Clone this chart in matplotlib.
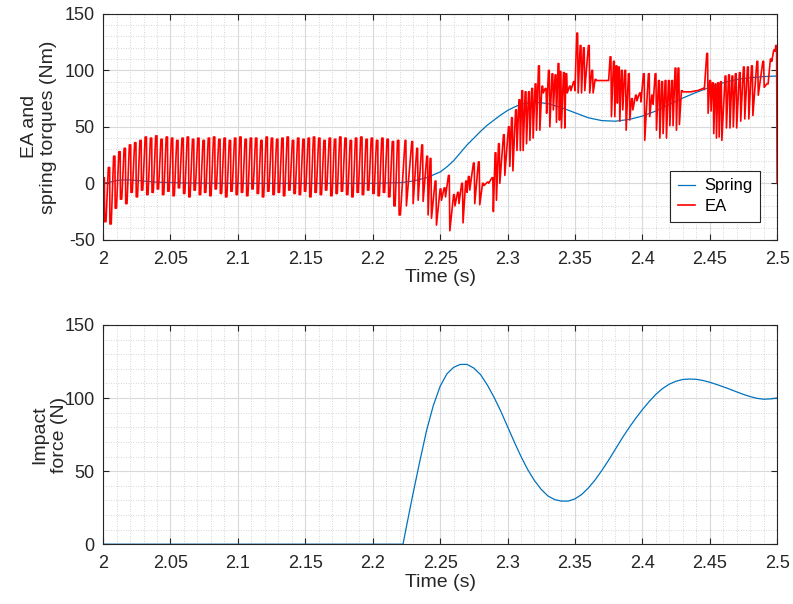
import numpy as np
import matplotlib
matplotlib.use("Agg")
import matplotlib.pyplot as plt
from matplotlib.ticker import MultipleLocator

plt.rcParams['font.family'] = ['Liberation Sans', 'DejaVu Sans']
plt.rcParams['axes.unicode_minus'] = False

# ---------------- data ----------------
# Spring torque (Nm)
spring_t = [2.000, 2.005, 2.010, 2.015, 2.020, 2.030, 2.040, 2.060, 2.100, 2.200,
            2.220, 2.230, 2.240, 2.250, 2.255, 2.260, 2.265, 2.270, 2.275, 2.280,
            2.285, 2.290, 2.295, 2.300, 2.305, 2.310, 2.315, 2.320, 2.325, 2.330,
            2.340, 2.350, 2.360, 2.370, 2.380, 2.390, 2.400, 2.410,
            2.420, 2.430, 2.440, 2.450, 2.460, 2.470, 2.480, 2.490, 2.500]
spring_v = [0.0, 1.0, 2.5, 3.0, 3.0, 2.0, 1.0, 0.3, 0.0, 0.0,
            0.5, 2.0, 5.0, 10.0, 14.5, 20.0, 27.0, 34.0, 40.0, 46.0,
            51.5, 56.0, 60.5, 64.5, 67.5, 70.0, 71.0, 71.5, 71.3, 70.5,
            67.0, 62.5, 58.0, 55.5, 55.0, 56.5, 59.5, 64.0,
            70.0, 75.5, 80.5, 85.0, 89.0, 92.0, 93.5, 94.5, 95.0]

# EA torque, regular switching phase (one peak / trough per cycle)
ea1_start = 2.0
ea1_period = 0.0039
ea1_peak = [5, 14, 24, 28, 31, 34, 36, 38, 41, 40, 42, 39, 41, 40, 38, 40, 41, 39, 40, 38,
            40, 41, 39, 40, 38, 40, 41, 39, 40, 40, 38, 41, 40, 39, 40, 41, 38, 40, 39, 40,
            41, 40, 38, 40, 39, 41, 40, 38, 40, 41, 39, 40, 38, 40, 39, 37, 38]
ea1_trough = [-34, -36, -22, -14, -18, -8, -12, -6, -10, -8, -5, -10, -7, -11, -4, -9, -12, -6, -10, -8,
              -11, -5, -9, -12, -7, -10, -8, -11, -5, -9, -12, -7, -10, -8, -11, -6, -9, -10, -7, -12,
              -8, -10, -6, -11, -9, -7, -10, -12, -8, -10, -6, -9, -11, -8, -12, -20, -28]

# EA torque, after impact (event time, high value, low value)
ea2_t = [2.2240, 2.2290, 2.2327, 2.2364, 2.2401, 2.2426, 2.2463, 2.2500, 2.2530, 2.2562,
         2.2600, 2.2630, 2.2660, 2.2690, 2.2710, 2.2747, 2.2784, 2.2815, 2.2850, 2.2885,
         2.2908, 2.2933, 2.2970, 2.3007, 2.3030, 2.3060, 2.3085, 2.3106, 2.3131, 2.3156,
         2.3180, 2.3205, 2.3230, 2.3255, 2.3280, 2.3304, 2.3330, 2.3353, 2.3375, 2.3390,
         2.3415, 2.3433, 2.3460, 2.3490, 2.3514, 2.3539, 2.3563, 2.3600, 2.3625, 2.3650,
         2.3700, 2.3740, 2.3761, 2.3786, 2.3805, 2.3823, 2.3845, 2.3870, 2.3897, 2.3920,
         2.3950, 2.3980, 2.4008, 2.4045, 2.4070, 2.4095, 2.4120, 2.4144, 2.4169, 2.4194,
         2.4218, 2.4243, 2.4265, 2.4290, 2.4350, 2.4400, 2.4450, 2.4478, 2.4500, 2.4520,
         2.4540, 2.4560, 2.4580, 2.4614, 2.4640, 2.4665, 2.4690, 2.4720, 2.4750, 2.4780,
         2.4810, 2.4850, 2.4894, 2.4923, 2.4950, 2.4975, 2.4990]
ea2_high = [38, 37, 31, 34, 24, 22, 2, -5, -4, 7,
            -10, -8, 0, 2, 6, 18, 19, 0, 1, 5,
            27, 35, 43, 50, 58, 65, 74, 82, 81, 81,
            84, 88, 104, 86, 84, 100, 97, 96, 106, 99,
            98, 97, 86, 90, 133, 122, 120, 122, 100, 92,
            91, 91, 112, 108, 104, 103, 100, 100, 97, 75,
            78, 80, 97, 97, 78, 97, 91, 90, 91, 91,
            91, 102, 102, 82, 81, 82, 84, 115, 91, 89,
            88, 89, 90, 95, 96, 95, 97, 98, 103, 103,
            104, 108, 108, 88, 110, 118, 122]
ea2_low = [-20, -18, -15, -16, -28, -31, -37, -15, -12, -42,
           -20, -18, -35, -8, -6, -18, -19, -2, 0, -25,
           -15, 0, 7, 15, 11, 29, 29, 29, 35, 38,
           40, 47, 47, 80, 62, 50, 65, 54, 56, 49,
           49, 80, 82, 82, 80, 80, 82, 80, 80, 91,
           91, 91, 59, 59, 71, 55, 65, 47, 56, 65,
           73, 72, 38, 59, 70, 47, 40, 44, 40, 51,
           51, 47, 52, 81, 81, 82, 83, 62, 64, 44,
           40, 41, 38, 49, 49, 50, 49, 55, 57, 57,
           60, 78, 85, 88, 108, 117, 0]

# Impact force (N)
force_t = [2.000, 2.2225, 2.225, 2.230, 2.235, 2.240, 2.245, 2.250, 2.255, 2.260,
           2.265, 2.270, 2.275, 2.280, 2.285, 2.290, 2.295, 2.300, 2.305, 2.310,
           2.315, 2.320, 2.325, 2.330, 2.335, 2.340, 2.345, 2.350, 2.355, 2.360,
           2.365, 2.370, 2.375, 2.380, 2.385, 2.390, 2.395, 2.400, 2.405, 2.410,
           2.415, 2.420, 2.425, 2.430, 2.435, 2.440, 2.445, 2.450, 2.455, 2.460,
           2.465, 2.470, 2.475, 2.480, 2.485, 2.490, 2.495, 2.500]
force_v = [0, 0, 12, 35, 57, 78, 95, 108, 116.5, 121,
           123, 123, 120.5, 116, 109, 100.5, 91, 80.5, 70, 60,
           51, 43.5, 37.5, 33, 30.5, 29.5, 29.5, 31, 34, 38.5,
           44, 50.5, 57.5, 65, 72.5, 79.5, 86, 92, 97.5, 102.5,
           106.5, 109.5, 111.5, 112.7, 113, 112.8, 112, 110.8, 109.3, 107.7,
           106, 104.2, 102.5, 101, 99.8, 99.2, 99.4, 100]

# ---------------- build EA polyline ----------------
ea_x, ea_y = [], []
for i, (hi, lo) in enumerate(zip(ea1_peak, ea1_trough)):
    t0 = ea1_start + i * ea1_period
    ea_x += [t0, t0 + 0.25 * ea1_period, t0 + 0.30 * ea1_period, t0 + 0.55 * ea1_period]
    ea_y += [hi, hi, lo, lo]
for t, hi, lo in zip(ea2_t, ea2_high, ea2_low):
    ea_x += [t, t + 0.0006, t + 0.0010]
    ea_y += [hi, hi, lo]
ea_y[0] = 3

# ---------------- figure ----------------
fig = plt.figure(figsize=(7.93, 6.04), dpi=100)
ax1 = fig.add_axes([0.130, 0.603, 0.850, 0.374])
ax2 = fig.add_axes([0.130, 0.099, 0.850, 0.363])

blue = '#0072BD'
red = '#FF0000'
axcol = '#262626'

ax1.plot(spring_t, spring_v, color=blue, lw=0.9, label='Spring')
ax1.plot(ea_x, ea_y, color=red, lw=1.2, label='EA')
ax2.plot(force_t, force_v, color=blue, lw=0.9)

for ax in (ax1, ax2):
    ax.set_xlim(2.0, 2.5)
    ax.xaxis.set_major_locator(MultipleLocator(0.05))
    ax.xaxis.set_minor_locator(MultipleLocator(0.01))
    ax.yaxis.set_major_locator(MultipleLocator(50))
    ax.yaxis.set_minor_locator(MultipleLocator(10))
    ax.grid(True, which='major', color='#d9d9d9', lw=0.8, ls='-')
    ax.grid(True, which='minor', color='#c8c8c8', lw=0.6, ls=(0, (1, 2)))
    ax.set_axisbelow(True)
    ax.tick_params(which='both', direction='in', top=True, right=True,
                   colors=axcol, labelcolor=axcol, labelsize=13)
    ax.tick_params(which='major', length=4, width=0.8)
    ax.tick_params(axis='x', which='major', pad=8)
    ax.tick_params(axis='y', which='major', pad=6)
    ax.tick_params(which='minor', length=0)
    for s in ax.spines.values():
        s.set_color(axcol)
        s.set_linewidth(0.8)
    ax.set_xticks(np.arange(2.0, 2.5001, 0.05))
    ax.set_xticklabels(['2', '2.05', '2.1', '2.15', '2.2', '2.25', '2.3', '2.35', '2.4', '2.45', '2.5'])
    ax.set_xlabel('Time (s)', fontsize=14, color=axcol, labelpad=1)

ax1.set_ylim(-50, 150)
ax2.set_ylim(0, 150)
ax1.set_ylabel('EA and\nspring torques (Nm)', fontsize=14, color=axcol,
               multialignment='center', va='center')
ax2.set_ylabel('Impact\nforce (N)', fontsize=14, color=axcol,
               multialignment='center', va='center')
ax1.yaxis.set_label_coords(-0.095, 0.5)
ax2.yaxis.set_label_coords(-0.079, 0.5)

leg = ax1.legend(loc='lower right', bbox_to_anchor=(0.975, 0.08), borderaxespad=0,
                 fontsize=12, fancybox=False, framealpha=1, edgecolor=axcol,
                 handlelength=1.0, borderpad=0.45, labelspacing=0.35,
                 handletextpad=0.6)
leg.get_frame().set_linewidth(0.8)

fig.savefig('out.png', dpi=100)
